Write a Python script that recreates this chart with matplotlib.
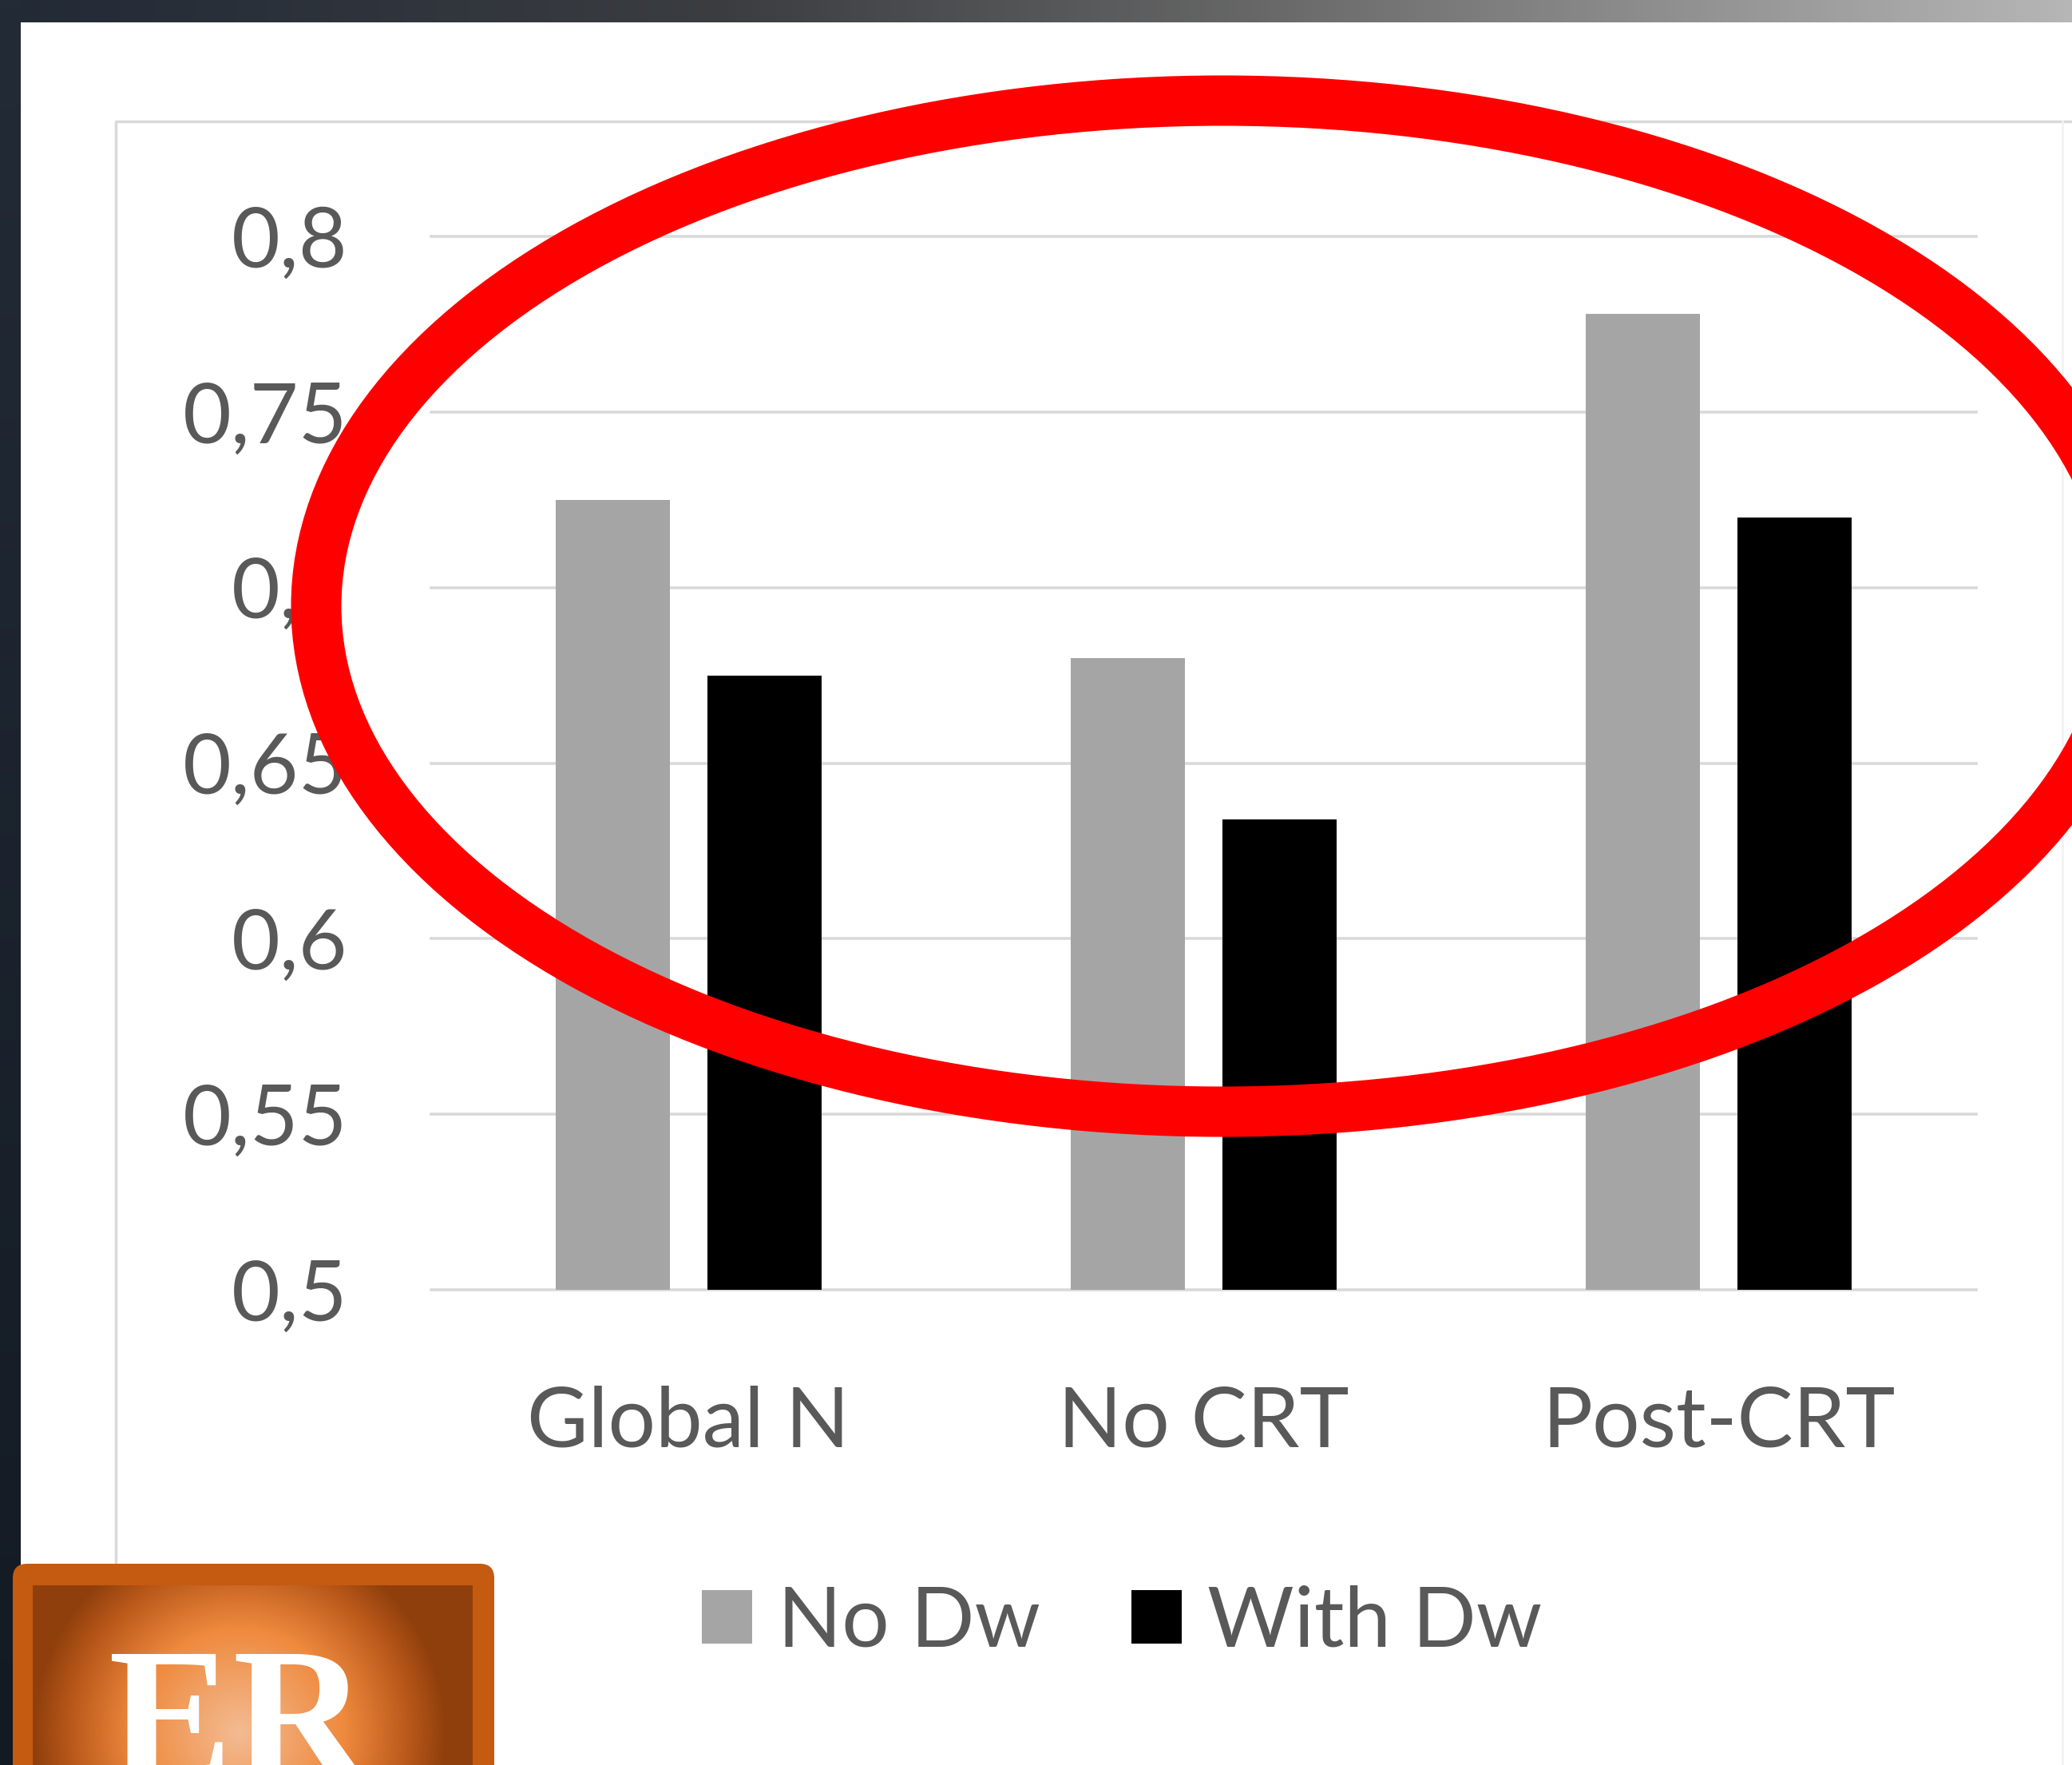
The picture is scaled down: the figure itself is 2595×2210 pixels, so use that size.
import numpy as np
import matplotlib.pyplot as plt
from matplotlib.patches import Ellipse, Rectangle, FancyBboxPatch
from matplotlib.colors import LinearSegmentedColormap

W, H = 2595, 2210
DPI = 100

# chart data
categories = ['Global N', 'No CRT', 'Post-CRT']
no_dw = [0.725, 0.680, 0.778]
with_dw = [0.675, 0.634, 0.720]
series_names = ['No Dw', 'With Dw']
yticks = [0.5, 0.55, 0.6, 0.65, 0.7, 0.75, 0.8]
ytick_labels = ['0,5', '0,55', '0,6', '0,65', '0,7', '0,75', '0,8']

FONT = 'Lato'
TXT = '#595959'
FS = 75.6


def fx(x):
    return x / W


def fy(y):
    return 1 - y / H


fig = plt.figure(figsize=(W / DPI, H / DPI), dpi=DPI)
fig.patch.set_facecolor('white')

# slide background (dark frame at top / left, chart border)
bg = fig.add_axes([0, 0, 1, 1], zorder=0)
band = LinearSegmentedColormap.from_list(
    'band', [(0, '#222a36'), (0.35, '#3b3d41'), (0.6, '#666666'), (1, '#b6b6b6')])
bg.imshow(np.linspace(0, 1, 256)[None, :], cmap=band, extent=(0, W, 28, 0), aspect='auto')
strip = LinearSegmentedColormap.from_list('strip', ['#232b37', '#131a23'])
bg.imshow(np.linspace(0, 1, 256)[:, None], cmap=strip, extent=(0, 26, H, 0), aspect='auto')
bg.plot([145, 145, 2595], [2300, 152, 152], color='#d9d9d9', lw=2.5)
bg.plot([2583, 2583], [152, 2300], color='#f2f2f2', lw=2)
bg.set_xlim(0, W)
bg.set_ylim(H, 0)
bg.axis('off')

# the bar chart
ax = fig.add_axes([fx(540), fy(1615), fx(2475) - fx(540), fy(296) - fy(1615)], zorder=1)
ax.patch.set_alpha(0)
x = np.arange(len(categories))
bw = 0.222
ax.bar(x - 0.147, no_dw, bw, color='#a5a5a5', label=series_names[0])
ax.bar(x + 0.147, with_dw, bw, color='#000000', label=series_names[1])
ax.set_xlim(-0.5, 2.5)
ax.set_ylim(0.5, 0.8)
ax.set_yticks(yticks, ytick_labels)
ax.set_xticks(x, categories)
ax.yaxis.grid(True, color='#d9d9d9', lw=2.6)
ax.set_axisbelow(True)
for line in ax.get_ygridlines():
    line.set_clip_on(False)
for s in ax.spines.values():
    s.set_visible(False)
ax.tick_params(length=0, labelsize=FS, labelcolor=TXT)
ax.tick_params(axis='y', pad=75)
ax.tick_params(axis='x', pad=86)
for t in ax.get_xticklabels() + ax.get_yticklabels():
    t.set_fontfamily(FONT)

fig.legend(loc='center', bbox_to_anchor=(fx(1405), fy(2032)), ncol=2, frameon=False,
           prop={'family': FONT, 'size': FS}, labelcolor=TXT,
           handlelength=0.6, handleheight=0.6, handletextpad=0.3, columnspacing=1.09)

# overlay: red ellipse and logo
ov = fig.add_axes([0, 0, 1, 1], zorder=3)
ov.patch.set_alpha(0)
ov.add_patch(Ellipse((1531, 759), 2270, 1266, fill=False, edgecolor='#ff0000', lw=45.4))

ov.add_patch(FancyBboxPatch((16, 1958), 603, 400, boxstyle='round,pad=0,rounding_size=18',
                            fc='#c55a11', ec='none', zorder=1))
gx, gy = np.meshgrid(np.linspace(41, 592, 300), np.linspace(1985, 2210, 120))
r = np.sqrt(((gx - 300) / 260) ** 2 + ((gy - 2170) / 260) ** 2)
logo_cmap = LinearSegmentedColormap.from_list(
    'logo', [(0, '#f3bb92'), (0.5, '#ef8a3e'), (0.82, '#b9581a'), (1, '#8f3f0c')])
ov.imshow(np.clip(r, 0, 1), cmap=logo_cmap, extent=(41, 592, 2210, 1985), aspect='auto', zorder=2)
ov.text(298, 2062, 'ER', family='Liberation Serif', weight='bold', fontsize=168,
        color='white', ha='center', va='top', zorder=3)
ov.set_xlim(0, W)
ov.set_ylim(H, 0)
ov.axis('off')

fig.savefig('out.png', dpi=DPI)
